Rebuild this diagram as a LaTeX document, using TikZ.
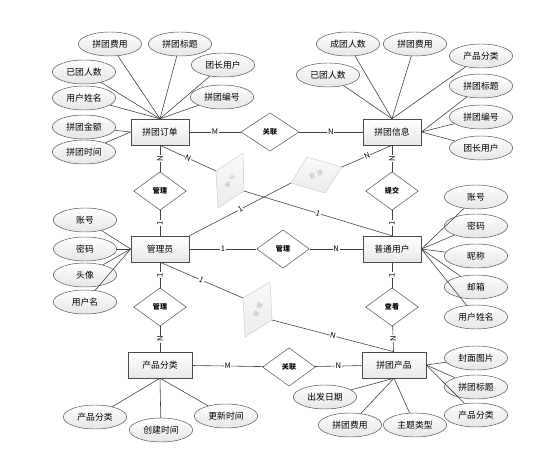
\documentclass[tikz,border=0pt]{standalone}
\usepackage{fontspec}
\setmainfont{Noto Sans CJK SC}
\usetikzlibrary{shapes.geometric,shadows}

\begin{document}
\begin{tikzpicture}[x=0.03cm, y=-0.03cm,
    entity/.style={rectangle, draw=black!70, top color=white, bottom color=gray!18, drop shadow={opacity=0.3, shadow xshift=0.8pt, shadow yshift=-0.8pt}, minimum width=1.75cm, minimum height=0.78cm, font=\fontsize{7.5}{9}\selectfont},
    attr/.style={ellipse, draw=black!70, top color=white, bottom color=gray!20, minimum width=1.9cm, minimum height=0.72cm, inner sep=0pt, font=\fontsize{7.5}{9}\selectfont},
    rel/.style={diamond, draw=black!70, fill=white, minimum width=1.58cm, minimum height=1.15cm, inner sep=0pt, font=\fontsize{6}{7}\selectfont\bfseries},
    card/.style={fill=white, inner sep=0.6pt, font=\fontsize{6.5}{7}\selectfont},
    link/.style={draw=black!75, line width=0.5pt},
    ghost/.style={draw=gray!40, top color=gray!4, bottom color=gray!16},
    ghosttext/.style={text=gray!60, inner sep=0pt, font=\fontsize{5}{6}\selectfont}]
    \useasboundingbox (0,0) rectangle (555,457);
    % entities and relations
    \node (ord) at (160,132) [entity] {拼团订单};
    \node (inf) at (392,132) [entity] {拼团信息};
    \node (adm) at (160,249) [entity] {管理员};
    \node (usr) at (392,249) [entity] {普通用户};
    \node (cat) at (160,365) [entity, minimum width=1.92cm] {产品分类};
    \node (pro) at (394,365) [entity, minimum width=1.92cm] {拼团产品};

    \node (relA) at (270,132) [rel, minimum width=1.74cm] {关联};
    \node (relB) at (160,191) [rel] {管理};
    \node (relC) at (392,191) [rel] {提交};
    \node (relD) at (283,249) [rel] {管理};
    \node (relE) at (160,307) [rel] {管理};
    \node (relF) at (392,307) [rel] {查看};
    \node (relG) at (289,367) [rel] {关联};

    % skewed relations
    \coordinate (sAl) at (216,171); \coordinate (sAt) at (243,153);
    \coordinate (sAr) at (244,191); \coordinate (sAb) at (218,208);
    \coordinate (sBl) at (291,183); \coordinate (sBt) at (307,157);
    \coordinate (sBr) at (342,167); \coordinate (sBb) at (325,193);
    \coordinate (sCl) at (243,298); \coordinate (sCt) at (270,282);
    \coordinate (sCr) at (272,320); \coordinate (sCb) at (245,337);
    \path[ghost] (sAl) -- (sAt) -- (sAr) -- (sAb) -- cycle;
    \path[ghost] (sBl) -- (sBt) -- (sBr) -- (sBb) -- cycle;
    \path[ghost] (sCl) -- (sCt) -- (sCr) -- (sCb) -- cycle;
    \node (tA) at (230,181) [ghosttext, rotate=62] {参\hspace{2pt}与};
    \node (tB) at (316,175) [ghosttext, rotate=25] {管\hspace{2pt}理};
    \node (tC) at (258,310) [ghosttext, rotate=68] {管\hspace{2pt}理};

    \draw [link] (ord) -- (relA) node [card, midway] {M};
    \draw [link] (relA) -- (inf) node [card, midway] {N};
    \draw [link] (ord) -- (relB) node [card, midway, rotate=90] {N};
    \draw [link] (relB) -- (adm) node [card, midway, rotate=90] {1};
    \draw [link] (inf) -- (relC) node [card, midway, rotate=90] {N};
    \draw [link] (relC) -- (usr) node [card, midway, rotate=90] {1};
    \draw [link] (adm) -- (relD) node [card, midway] {1};
    \draw [link] (relD) -- (usr) node [card, midway] {N};
    \draw [link] (adm) -- (relE) node [card, midway, rotate=90] {1};
    \draw [link] (relE) -- (cat) node [card, midway, rotate=90] {N};
    \draw [link] (usr) -- (relF) node [card, midway, rotate=90] {1};
    \draw [link] (relF) -- (pro) node [card, midway, rotate=90] {N};
    \draw [link] (cat) -- (relG) node [card, midway] {M};
    \draw [link] (relG) -- (pro) node [card, midway] {N};

    \draw [link] (ord.south) -- (sAl) node [card, midway, sloped] {N};
    \draw [link] (sAr) -- (usr.north) node [card, midway, sloped] {1};
    \draw [link] (adm.north east) -- (sBl) node [card, midway, sloped] {1};
    \draw [link] (sBr) -- (inf.south) node [card, midway, sloped] {N};
    \draw [link] (adm.south) -- (sCl) node [card, midway, sloped] {1};
    \draw [link] (sCr) -- (pro.north) node [card, midway, sloped] {N};

    % attributes of 拼团订单
    \node (oFee) at (110,44) [attr] {拼团费用};
    \node (oTitle) at (180,44) [attr] {拼团标题};
    \node (oHead) at (223,65) [attr] {团长用户};
    \node (oNo) at (222,97) [attr] {拼团编号};
    \node (oJoin) at (84,72) [attr] {已团人数};
    \node (oName) at (84,98) [attr] {用户姓名};
    \node (oSum) at (84,127) [attr] {拼团金额};
    \node (oTime) at (84,152) [attr] {拼团时间};
    \foreach \a in {oFee,oTitle,oHead,oNo,oJoin,oName}
        \draw [link] (\a) -- (ord.north);
    \foreach \a in {oSum,oTime}
        \draw [link] (\a) -- (ord.west);

    % attributes of 拼团信息
    \node (iDone) at (348,44) [attr] {成团人数};
    \node (iFee) at (415,44) [attr] {拼团费用};
    \node (iCat) at (481,56) [attr] {产品分类};
    \node (iJoin) at (328,75) [attr] {已团人数};
    \node (iTitle) at (481,86) [attr] {拼团标题};
    \node (iNo) at (481,117) [attr] {拼团编号};
    \node (iHead) at (481,148) [attr] {团长用户};
    \foreach \a in {iDone,iFee,iCat,iJoin}
        \draw [link] (\a) -- (inf.north);
    \foreach \a in {iTitle,iNo,iHead}
        \draw [link] (\a) -- (inf.east);

    % attributes of 管理员
    \node (aAcc) at (85,220) [attr] {账号};
    \node (aPwd) at (85,249) [attr] {密码};
    \node (aImg) at (85,275) [attr] {头像};
    \node (aName) at (85,302) [attr] {用户名};
    \foreach \a in {aAcc,aPwd,aImg,aName}
        \draw [link] (\a) -- (adm.west);

    % attributes of 普通用户
    \node (uAcc) at (476,197) [attr] {账号};
    \node (uPwd) at (476,226) [attr] {密码};
    \node (uNick) at (476,256) [attr] {昵称};
    \node (uMail) at (476,287) [attr] {邮箱};
    \node (uName) at (476,317) [attr] {用户姓名};
    \foreach \a in {uAcc,uPwd,uNick,uMail,uName}
        \draw [link] (\a) -- (usr.east);

    % attributes of 产品分类
    \node (cCat) at (95,417) [attr] {产品分类};
    \node (cMade) at (161,430) [attr] {创建时间};
    \node (cUpd) at (226,416) [attr] {更新时间};
    \foreach \a in {cCat,cMade,cUpd}
        \draw [link] (\a) -- (cat.south);

    % attributes of 拼团产品
    \node (pCover) at (476,358) [attr] {封面图片};
    \node (pTitle) at (476,387) [attr] {拼团标题};
    \node (pCat) at (476,415) [attr] {产品分类};
    \node (pDate) at (325,397) [attr] {出发日期};
    \node (pFee) at (350,425) [attr] {拼团费用};
    \node (pType) at (415,425) [attr] {主题类型};
    \foreach \a in {pCover,pTitle,pCat}
        \draw [link] (\a) -- (pro.east);
    \foreach \a in {pDate,pFee,pType}
        \draw [link] (\a) -- (pro.south);
\end{tikzpicture}
\end{document}
